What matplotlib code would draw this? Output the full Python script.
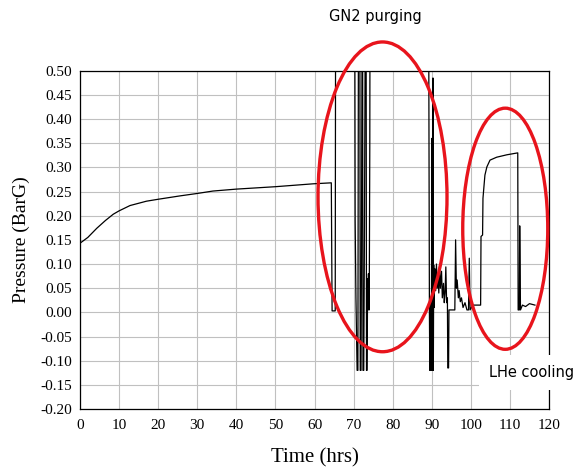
import matplotlib.pyplot as plt
from matplotlib.patches import Ellipse

# pressure log (values above 0.50 are clipped by the axes)
time_hrs = [0.0, 2.0, 4.3, 6.5, 8.5, 10.0, 12.8, 17.0, 20.0, 25.6, 30.0, 34.0, 40.0,
            50.0, 59.7, 64.3, 64.5, 65.3, 65.4, 70.3, 70.4, 70.6, 70.9, 71.1,
            71.25, 71.6, 71.7, 71.9, 72.0, 72.2, 72.3, 72.4, 72.6, 72.8, 73.0,
            73.2, 73.3, 73.45, 73.6, 73.7, 73.8, 73.9, 74.0, 74.15, 74.2, 89.2,
            89.4, 89.5, 89.6, 89.7, 89.8, 89.9, 90.0, 90.1, 90.2, 90.3, 90.4,
            90.5, 90.6, 90.8, 91.0, 91.2, 91.4, 91.6, 91.8, 92.0, 92.2, 92.5,
            92.7, 93.0, 93.2, 93.4, 93.6, 93.8, 94.0, 94.1, 94.3, 94.4, 95.9,
            96.1, 96.3, 96.5, 96.8, 97.0, 97.3, 97.6, 98.0, 98.5, 99.0, 99.4,
            99.6, 99.8, 100.5, 102.5, 102.6, 103.0, 103.1, 103.4, 103.6, 104.1,
            104.9, 106.6, 109.2, 112.0, 112.1, 112.4, 112.5, 112.7, 113.2, 114.0,
            115.0, 116.4]
pressure = [0.143, 0.155, 0.174, 0.190, 0.203, 0.210, 0.221, 0.230, 0.234, 0.241,
            0.246, 0.251, 0.255, 0.260, 0.266, 0.268, 0.003, 0.003, 0.65, 0.65,
            0.19, 0.03, -0.12, -0.12, 0.65, 0.65, -0.12, -0.12, 0.088, 0.65,
            0.65, -0.12, -0.12, 0.20, 0.65, 0.65, -0.12, -0.12, 0.07, 0.005,
            0.08, 0.01, 0.005, 0.356, 0.65, 0.65, 0.0, -0.12, -0.01, -0.12,
            0.02, -0.12, 0.36, -0.12, 0.03, 0.485, -0.12, 0.098, 0.01, 0.09,
            0.045, 0.10, 0.05, 0.08, 0.04, 0.095, 0.05, 0.085, 0.03, 0.06,
            0.02, 0.04, 0.094, 0.02, 0.03, -0.115, -0.115, 0.005, 0.005, 0.15,
            0.05, 0.067, 0.03, 0.045, 0.022, 0.03, 0.01, 0.02, 0.005, 0.005,
            0.112, 0.005, 0.015, 0.015, 0.157, 0.16, 0.236, 0.265, 0.284,
            0.301, 0.315, 0.321, 0.326, 0.330, 0.005, 0.005, 0.179, 0.005,
            0.015, 0.012, 0.018, 0.015]

x_ticks = list(range(0, 121, 10))
y_ticks = [-0.20, -0.15, -0.10, -0.05, 0.00, 0.05, 0.10, 0.15, 0.20, 0.25,
           0.30, 0.35, 0.40, 0.45, 0.50]

fig = plt.figure(figsize=(5.86, 4.73), dpi=100)
ax = fig.add_axes([0.1365, 0.1353, 0.8004, 0.7152])

ax.plot(time_hrs, pressure, color='black', lw=0.9, zorder=3)

ax.set_xlim(0, 120)
ax.set_ylim(-0.20, 0.50)
ax.set_xticks(x_ticks)
ax.set_yticks(y_ticks)
ax.set_xticklabels([str(t) for t in x_ticks], family='Liberation Serif', fontsize=11)
ax.set_yticklabels([f"{v:.2f}" for v in y_ticks], family='Liberation Serif', fontsize=11)
ax.tick_params(length=0)
ax.tick_params(axis='x', pad=7)
ax.tick_params(axis='y', pad=6)
ax.grid(True, color='#c0c0c0', lw=0.8)
ax.set_axisbelow(True)
for s in ax.spines.values():
    s.set_linewidth(0.9)

ax.set_xlabel("Time (hrs)", family='Liberation Serif', fontsize=15)
ax.set_ylabel("Pressure (BarG)", family='Liberation Serif', fontsize=14)
ax.xaxis.set_label_coords(0.5, -0.115)
ax.yaxis.set_label_coords(-0.106, 0.5)

# the two red rings
ax.add_patch(Ellipse((77.4, 0.239), 33.0, 0.641, fill=False, ec='#e8141c',
                     lw=2.4, clip_on=False, zorder=4))
ax.add_patch(Ellipse((108.8, 0.173), 21.75, 0.499, fill=False, ec='#e8141c',
                     lw=2.4, clip_on=False, zorder=4))

ax.text(75.5, 0.613, "GN2 purging", ha='center', va='center', fontsize=10.5,
        clip_on=False)
ax.text(104.7, -0.125, "LHe cooling", ha='left', va='center', fontsize=10.5,
        clip_on=False, zorder=6,
        bbox=dict(boxstyle='square,pad=0.7', fc='white', ec='none'))

fig.savefig("out.png", dpi=100)
